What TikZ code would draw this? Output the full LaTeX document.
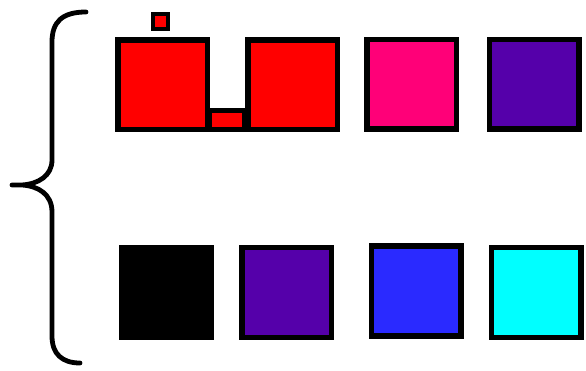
\documentclass[tikz,border=0pt]{standalone}
\usepackage{tikz}

\definecolor{boxred}{HTML}{FF0000}
\definecolor{boxpink}{HTML}{FF0078}
\definecolor{boxviolet}{HTML}{5500AA}
\definecolor{boxblue}{HTML}{2A2AFF}
\definecolor{boxcyan}{HTML}{00FFFF}

\begin{document}
\begin{tikzpicture}[
  x=1pt, y=-1pt,
  sq/.style={draw, fill=#1, line width=5.5pt, inner sep=0pt, minimum size=89.5pt},
  tiny/.style={draw, fill=boxred, line width=4pt, inner sep=0pt, minimum size=15pt},
  brace/.style={line width=4.8pt, line cap=round, line join=round}
]
\useasboundingbox (0,0) rectangle (586,371);

% upper row
\node[draw, fill=boxred, line width=5pt, inner sep=0pt, minimum width=35pt, minimum height=19pt] (gap) at (227,120) {};
\node[sq=boxred] (red1) at (162.5,85) {};
\node[sq=boxred] (red2) at (292.5,85) {};
\node[tiny] (dot) at (160.5,22) {};
\node[sq=boxpink] (pink) at (411.5,84.5) {};
\node[sq=boxviolet] (violet1) at (534,84.5) {};

% lower row
\node[sq=black] (black) at (166.5,292.5) {};
\node[sq=boxviolet] (violet2) at (286.5,292.5) {};
\node[sq=boxblue] (blue) at (416,291) {};
\node[sq=boxcyan] (cyan) at (536,292.5) {};

% brace
\draw[brace] (86,12) .. controls (62,12) and (52,22) .. (52,42) -- (52,160)
  .. controls (52,176) and (38,184) .. (22,185) -- (12,185) -- (22,185)
  .. controls (38,186) and (52,194) .. (52,212) -- (52,336)
  .. controls (52,354) and (62,363) .. (80,363);
\end{tikzpicture}
\end{document}
